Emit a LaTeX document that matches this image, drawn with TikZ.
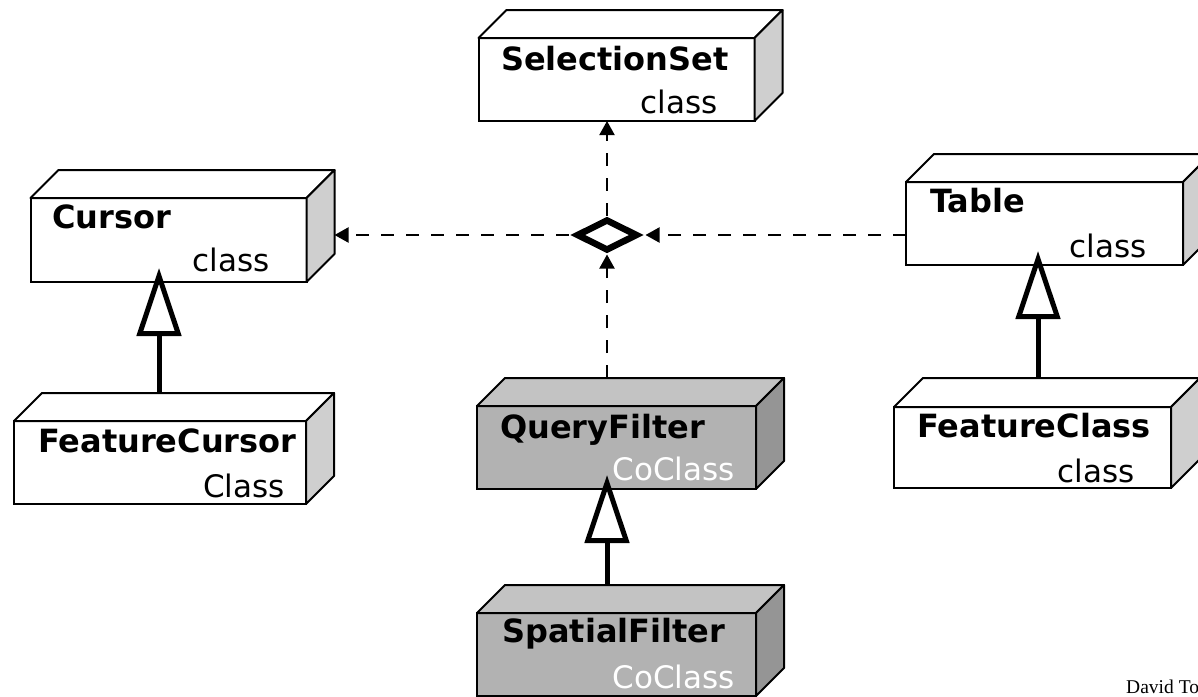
\documentclass[tikz,border=0pt]{standalone}
\usepackage{fontspec}
\setmainfont{DejaVu Sans}
\newfontfamily\creditfont{Liberation Serif}
\usetikzlibrary{arrows.meta,shapes.geometric}

\definecolor{sidewhite}{HTML}{CFCFCF}
\definecolor{frontgray}{HTML}{B2B2B2}
\definecolor{topgray}{HTML}{C3C3C3}
\definecolor{sidegray}{HTML}{959595}

\tikzset{
  front/.style={draw, line width=2pt, inner sep=0pt, outer sep=0pt,
    minimum width=276pt, minimum height=83pt},
  whitebox/.style={front, fill=white},
  graybox/.style={front, fill=frontgray},
  face/.style={draw, line width=2pt, line join=round},
  title/.style={font=\fontsize{32}{32}\selectfont\bfseries, inner sep=0pt, anchor=base west},
  kind/.style={font=\fontsize{31}{31}\selectfont, inner sep=0pt, anchor=base east},
  dep/.style={line width=2pt, dash pattern=on 13pt off 12pt,
    -{Triangle[length=14pt,width=15pt]}},
  inherit/.style={line width=5pt, shorten >=-14pt,
    -{Triangle[open,length=68pt,width=44pt]}},
  assoc/.style={diamond, draw, line width=6.5pt, fill=white, inner sep=0pt,
    minimum width=64pt, minimum height=32pt, outer xsep=6.5pt, outer ysep=3.5pt},
}

% top and side faces of a box drawn behind/beside its front face node
\newcommand\boxfaces[4]{%
  \path[face, fill=#2] (#1.north west) -- ([shift={(#4,-#4)}]#1.north west)
    -- ([shift={(#4,-#4)}]#1.north east) -- (#1.north east) -- cycle;
  \path[face, fill=#3] (#1.north east) -- ([shift={(#4,-#4)}]#1.north east)
    -- ([shift={(#4,-#4)}]#1.south east) -- (#1.south east) -- cycle;
}

\begin{document}
\begin{tikzpicture}[x=1pt, y=-1pt]
\clip (0,0) rectangle (1198,696);
\fill[white] (0,0) rectangle (1198,696);

% front faces
\node[whitebox] (sel) at (616.5,79.5) {};
\node[whitebox, minimum height=84pt] (cur) at (168.5,240) {};
\node[whitebox, minimum width=277pt] (tab) at (1044.5,223.5) {};
\node[whitebox, minimum width=292pt] (fcur) at (160,462.5) {};
\node[graybox, minimum width=279pt] (qf) at (616.5,447.5) {};
\node[graybox, minimum width=279pt] (sf) at (616.5,654.5) {};
\node[whitebox, minimum width=277pt, minimum height=81pt] (fcl) at (1032.5,447.5) {};

\boxfaces{sel}{white}{sidewhite}{28}
\boxfaces{cur}{white}{sidewhite}{28}
\boxfaces{tab}{white}{sidewhite}{28}
\boxfaces{fcur}{white}{sidewhite}{28}
\boxfaces{qf}{topgray}{sidegray}{28}
\boxfaces{sf}{topgray}{sidegray}{28}
\boxfaces{fcl}{white}{sidewhite}{29}

% labels
\node[title] (sel-t) at (501,70) {SelectionSet};
\node[kind]  (sel-k) at (718,113) {class};
\node[title] (cur-t) at (52,228) {Cursor};
\node[kind]  (cur-k) at (270,271) {class};
\node[title] (tab-t) at (930,212) {Table};
\node[kind]  (tab-k) at (1147,257) {class};
\node[title] (fcur-t) at (38,452) {FeatureCursor};
\node[kind]  (fcur-k) at (285,497) {Class};
\node[title] (qf-t) at (500,438) {QueryFilter};
\node[kind, text=white] (qf-k) at (735,480) {CoClass};
\node[title] (sf-t) at (502,642) {SpatialFilter};
\node[kind, text=white] (sf-k) at (735,688) {CoClass};
\node[title] (fcl-t) at (917,437) {FeatureClass};
\node[kind]  (fcl-k) at (1135,482) {class};

% association diamond
\node[assoc] (dia) at (607,235) {};

% anchor points on the box outlines
\coordinate (cur-side) at ([xshift=28pt]cur.east);
\coordinate (qf-top) at ([yshift=28pt]qf.north);
\coordinate (fcur-top) at ([xshift=-1pt,yshift=28pt]fcur.north);
\coordinate (sf-top) at ([xshift=-9.5pt,yshift=28pt]sf.north);
\coordinate (fcl-top) at ([xshift=5.5pt,yshift=29pt]fcl.north);

% dependencies through the diamond
\draw[dep] (dia.west) -- (cur-side |- dia.west);
\draw[dep] (tab.west |- dia.east) -- (dia.east);
\draw[dep] (dia |- qf-top) -- (dia.south);
\draw[dep] (dia.north) -- (dia |- sel.south);

% generalisations
\draw[inherit] (fcur-top) -- (fcur-top |- cur.south);
\draw[inherit] (sf-top) -- (sf-top |- qf.south);
\draw[inherit] (fcl-top) -- (fcl-top |- tab.south);

\node[font=\creditfont\fontsize{19.5}{19.5}\selectfont, anchor=base west, inner sep=0pt]
  (credit) at (1126,693) {David To};
\end{tikzpicture}
\end{document}
